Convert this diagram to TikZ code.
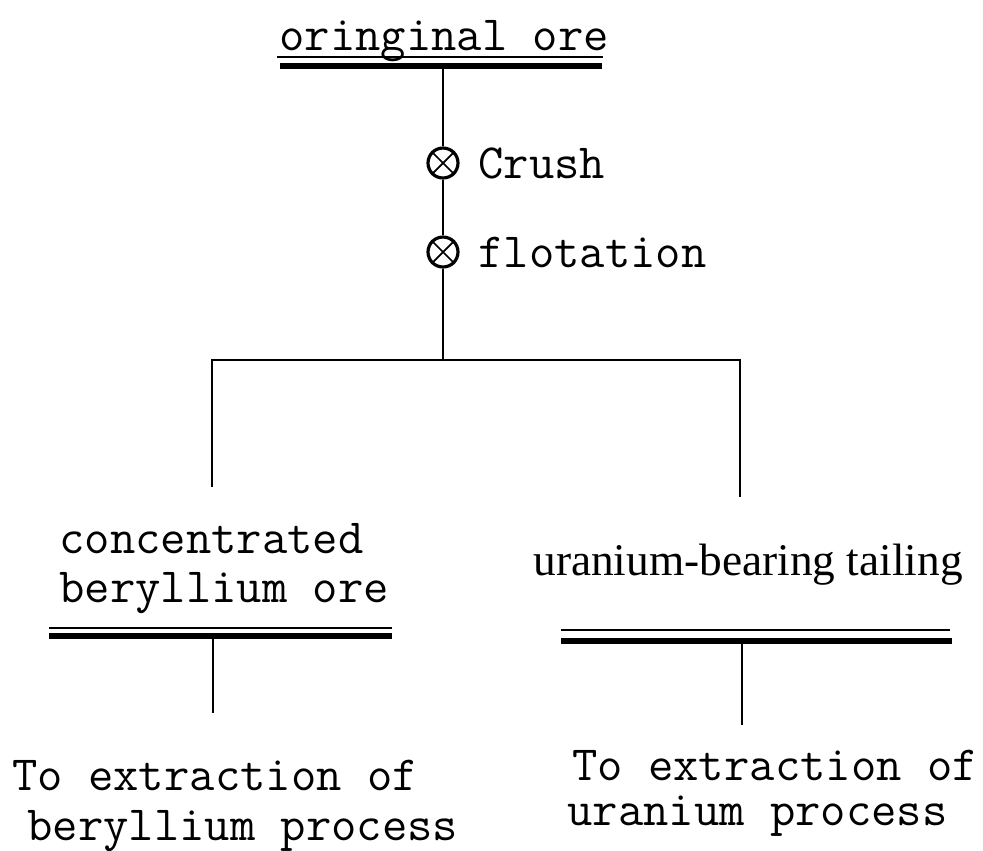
\documentclass[tikz,border=0pt]{standalone}
\usepackage{fontspec}
\newfontfamily\romfont{Liberation Serif}

\tikzset{
  mono/.style={font=\ttfamily\fontsize{28}{33}\selectfont, inner sep=0pt, anchor=base west},
  serif/.style={font=\romfont\fontsize{25.8}{30}\selectfont, inner sep=0pt, anchor=base west},
  thinrule/.style={line width=1.6pt},
  thickrule/.style={line width=3.2pt},
  stem/.style={line width=1.3pt},
  opcircle/.style={circle, draw, line width=1.8pt, fill=white, minimum size=0.6cm, inner sep=0pt}
}

\begin{document}
\begin{tikzpicture}[x=0.02cm,y=-0.02cm]
  \useasboundingbox (0,0) rectangle (983,850);
  % top: original ore
  \node [mono] (orig) at (279,50) {oringinal ore};
  \draw [thinrule] (277,57) -- (603,57);
  \draw [thickrule] (280,66) -- (602,66);
  \coordinate (origbar) at (443,66);
  % operations
  \node [opcircle] (crush) at (443,163) {};
  \draw [line width=1pt] (crush.45) -- (crush.225) (crush.135) -- (crush.315);
  \node [mono] (crushtxt) at (478,178) {Crush};
  \node [opcircle] (flot) at (443,252) {};
  \draw [line width=1pt] (flot.45) -- (flot.225) (flot.135) -- (flot.315);
  \node [mono] (flottxt) at (478,267) {flotation};
  \coordinate (split) at (443,360);
  \coordinate (splitl) at (212,360);
  \coordinate (splitr) at (740,360);
  \coordinate (endl) at (212,487);
  \coordinate (endr) at (740,497);
  \draw [stem] (origbar) -- (crush) -- (flot) -- (split);
  \draw [stem] (endl) -- (splitl) -- (splitr) -- (endr);
  % left branch
  \node [mono] (conc1) at (59,553) {concentrated};
  \node [mono] (conc2) at (59,602) {beryllium ore};
  \draw [thinrule] (49,628) -- (392,628);
  \draw [thickrule] (49,636) -- (392,636);
  \coordinate (concbar) at (213,636);
  \coordinate (concend) at (213,713);
  \draw [stem] (concbar) -- (concend);
  % right branch
  \node [serif] (tail) at (533,575) {uranium-bearing tailing};
  \draw [thinrule] (561,630) -- (950,630);
  \draw [thickrule] (561,641) -- (952,641);
  \coordinate (tailbar) at (742,641);
  \coordinate (tailend) at (742,725);
  \draw [stem] (tailbar) -- (tailend);
  % destinations
  \node [mono] (beto1) at (12,790) {To extraction of};
  \node [mono] (beto2) at (27,840) {beryllium process};
  \node [mono] (urto1) at (572,780) {To extraction of};
  \node [mono] (urto2) at (567,825) {uranium process};
\end{tikzpicture}
\end{document}
